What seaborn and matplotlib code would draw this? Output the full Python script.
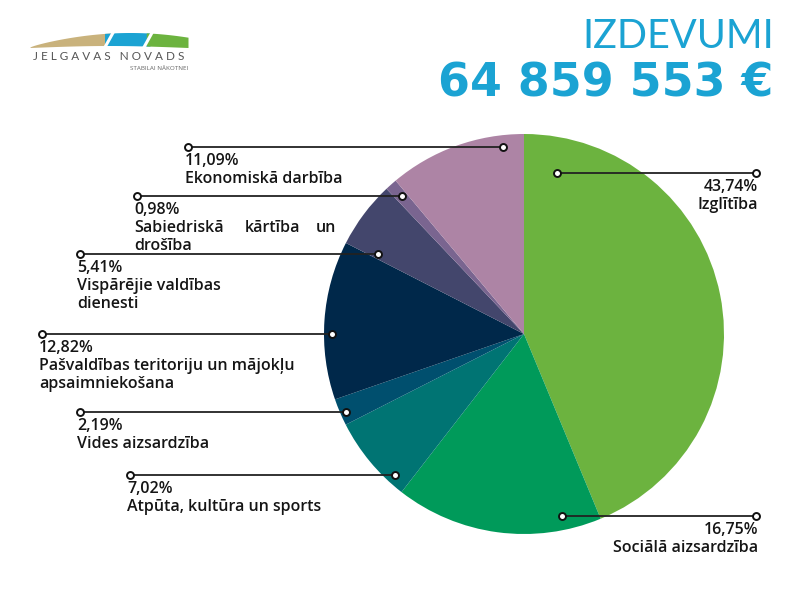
import numpy as np
import matplotlib
matplotlib.use("Agg")
import matplotlib.pyplot as plt
import seaborn as sns

# Data
categories = ["Izglītība", "Sociālā aizsardzība", "Atpūta, kultūra un sports",
              "Vides aizsardzība", "Pašvaldības teritoriju un mājokļu apsaimniekošana",
              "Vispārējie valdības dienesti", "Sabiedriskā kārtība un drošība",
              "Ekonomiskā darbība"]
shares = [43.74, 16.75, 7.02, 2.19, 12.82, 5.41, 0.98, 11.09]
pct_labels = ["43,74%", "16,75%", "7,02%", "2,19%", "12,82%", "5,41%", "0,98%", "11,09%"]
colors = ["#6cb33f", "#009a5a", "#007473", "#004f6e",
          "#00284a", "#43466c", "#7a6590", "#ad84a5"]
total_text = "64 859 553 €"

sns.set_theme(style="white")
plt.rcParams['font.family'] = ['Open Sans', 'DejaVu Sans']

W, H = 800, 600
fig = plt.figure(figsize=(8, 6), dpi=100)
fig.patch.set_facecolor("white")

# pie axes (pixel box: x 324..724, y 133..533)
ax = fig.add_axes([324 / W, 1 - 534 / H, 400 / W, 400 / H])
ax.pie(shares, colors=colors, startangle=90, counterclock=False,
       wedgeprops=dict(linewidth=0))
ax.set_xlim(-1, 1)
ax.set_ylim(-1, 1)
ax.set_aspect("equal")
ax.axis("off")

# overlay axes in pixel coordinates for leaders and text
ov = fig.add_axes([0, 0, 1, 1])
ov.set_xlim(0, W)
ov.set_ylim(H, 0)
ov.axis("off")


def leader(x0, x1, y):
    ov.plot([x0, x1], [y, y], color="#222222", lw=1.3, zorder=5)
    ov.plot([x0, x1], [y, y], "o", ms=5, mfc="white", mec="#111111", mew=1.4, zorder=6)


txt = dict(fontsize=11.5, color="#151515", va="center", fontweight="semibold")

# left side labels: (index, line x0, x1, y, text lines)
left = [
    (7, 188, 503, 147, ["Ekonomiskā darbība"]),
    (6, 137, 402, 196, None),
    (5, 80, 378, 254, ["Vispārējie valdības", "dienesti"]),
    (4, 42, 332, 334, ["Pašvaldības teritoriju un mājokļu", "apsaimniekošana"]),
    (3, 80, 346, 412, ["Vides aizsardzība"]),
    (2, 130, 395, 475, ["Atpūta, kultūra un sports"]),
]
for i, x0, x1, y, lines in left:
    leader(x0, x1, y)
    ov.text(x0 - 3, y + 14, pct_labels[i], ha="left", **txt)
    if lines is None:
        # justified line
        ov.text(x0 - 3, y + 32, "Sabiedriskā", ha="left", **txt)
        ov.text(272, y + 32, "kārtība", ha="center", **txt)
        ov.text(336, y + 32, "un", ha="right", **txt)
        ov.text(x0 - 3, y + 50, "drošība", ha="left", **txt)
    else:
        for k, line in enumerate(lines):
            ov.text(x0 - 3, y + 32 + 18 * k, line, ha="left", **txt)

# right side labels
right = [(0, 557, 756, 173), (1, 562, 756, 516)]
for i, x0, x1, y in right:
    leader(x0, x1, y)
    ov.text(x1 + 2, y + 14, pct_labels[i], ha="right", **txt)
    ov.text(x1 + 2, y + 32, categories[i], ha="right", **txt)

# title
ov.text(774, 36, "IZDEVUMI", ha="right", va="center", fontsize=28.5,
        fontweight="normal", color="#1ba3d3", family=["Lato", "DejaVu Sans"])
ov.text(773, 84, total_text, ha="right", va="center", fontsize=33,
        fontweight="bold", color="#1ba3d3", family=["DejaVu Sans"])

# logo
lg = fig.add_axes([28 / W, 1 - 50 / H, 162 / W, 20 / H])
lg.set_xlim(28, 190)
lg.set_ylim(50, 30)
lg.axis("off")
xs = np.linspace(30, 188, 300)
top = 47 - 14.5 * np.sin(np.pi * (xs - 30) / 200) ** 0.8
bot = 47.5 - 2.0 * np.sin(np.pi * (xs - 30) / 158)
for a, b, c in [(30, 112, "#c9b27c"), (104, 150, "#1ba3d3"), (146, 188, "#6cb33f")]:
    m = (xs >= a) & (xs <= b)
    lg.fill_between(xs[m], top[m], bot[m], color=c, lw=0)
for gx in [109, 148]:
    lg.plot([gx + 5, gx - 5], [31, 49], color="white", lw=2.2)
ov.text(109, 57, "J E L G A V A S   N O V A D S", ha="center", va="center",
        fontsize=8.5, color="#555555", family=["Lato", "DejaVu Sans"])
ov.text(188, 68, "STABILAI NĀKOTNEI", ha="right", va="center",
        fontsize=4.5, color="#666666")

fig.savefig("out.png", dpi=100, facecolor="white")
